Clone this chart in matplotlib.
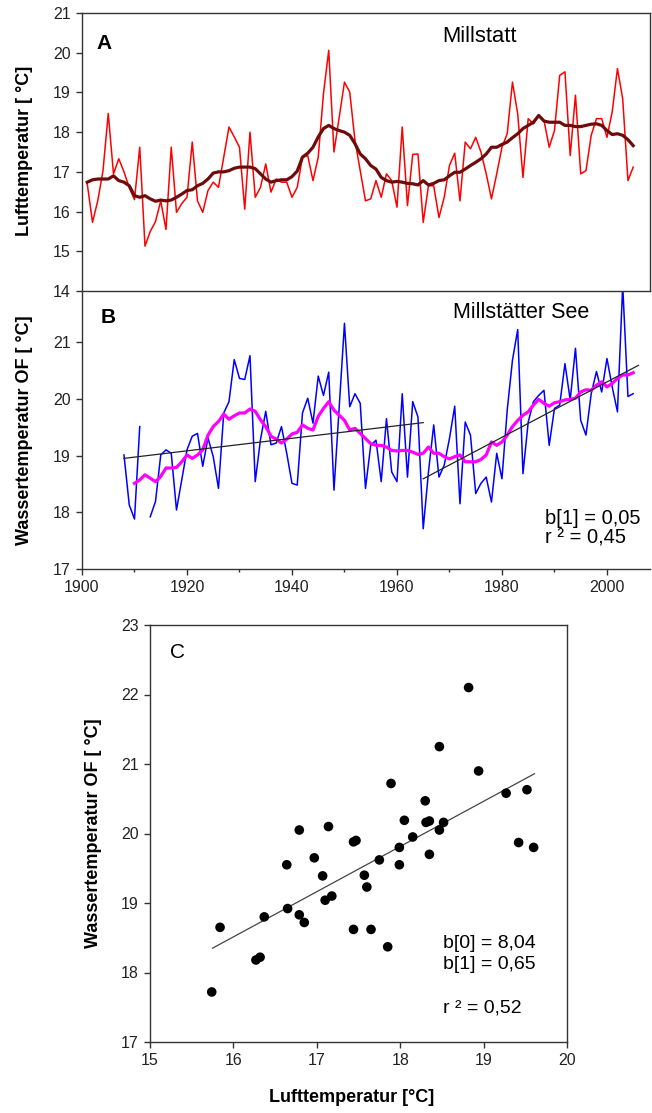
import matplotlib
import numpy as np
from matplotlib import pyplot as plt

matplotlib.use("Agg")

plt.rcParams["font.family"] = ["Liberation Sans", "DejaVu Sans"]

# Panel A: air temperature Millstatt
air_years = np.arange(1901, 2006)
air_temp = [16.70, 15.73, 16.27, 17.03, 18.47, 16.95, 17.33, 17.00, 16.60, 16.30,
            17.62, 15.13, 15.50, 15.75, 16.27, 15.55, 17.62, 15.98, 16.20, 16.36,
            17.75, 16.27, 15.98, 16.53, 16.74, 16.61, 17.37, 18.13, 17.88, 17.62,
            16.06, 18.00, 16.36, 16.61, 17.20, 16.49, 16.82, 16.74, 16.74, 16.36,
            16.61, 17.37, 17.41, 16.78, 17.37, 18.97, 20.06, 17.50, 18.38, 19.26,
            19.01, 17.79, 17.03, 16.27, 16.32, 16.78, 16.36, 16.95, 16.78, 16.11,
            18.13, 16.15, 17.44, 17.45, 15.73, 16.65, 16.65, 15.85, 16.36, 17.16,
            17.47, 16.27, 17.75, 17.58, 17.87, 17.50, 16.95, 16.32, 16.95, 17.62,
            17.96, 19.26, 18.46, 16.86, 18.34, 18.21, 18.42, 18.30, 17.62, 18.04,
            19.43, 19.52, 17.41, 18.93, 16.95, 17.03, 17.92, 18.34, 18.34, 17.87,
            18.51, 19.60, 18.84, 16.78, 17.12]
air_smooth = [16.74, 16.80, 16.82, 16.82, 16.82, 16.90, 16.78, 16.74, 16.65, 16.40,
              16.36, 16.40, 16.32, 16.26, 16.29, 16.27, 16.29, 16.36, 16.44, 16.53,
              16.55, 16.65, 16.71, 16.82, 16.97, 17.00, 17.00, 17.03, 17.09, 17.12,
              17.12, 17.12, 17.08, 16.95, 16.82, 16.74, 16.78, 16.80, 16.80, 16.88,
              17.02, 17.37, 17.47, 17.62, 17.88, 18.09, 18.17, 18.09, 18.04, 18.00,
              17.92, 17.71, 17.45, 17.33, 17.16, 17.07, 16.86, 16.78, 16.74, 16.76,
              16.74, 16.71, 16.70, 16.67, 16.78, 16.67, 16.71, 16.78, 16.80, 16.90,
              16.99, 16.99, 17.07, 17.16, 17.24, 17.33, 17.45, 17.62, 17.62, 17.69,
              17.75, 17.86, 17.96, 18.09, 18.17, 18.25, 18.42, 18.28, 18.25, 18.25,
              18.25, 18.17, 18.17, 18.14, 18.14, 18.17, 18.20, 18.21, 18.17, 18.04,
              17.94, 17.96, 17.92, 17.81, 17.66]

# Panel B: surface water temperature Millstaetter See
water_years = np.arange(1908, 2006)
water_temp = [19.01, 18.13, 17.88, 19.51, np.nan, 17.92, 18.19, 19.01, 19.10, 19.04,
              18.04, 18.57, 19.10, 19.34, 19.39, 18.81, 19.31, 18.98, 18.42, 19.75,
              19.95, 20.69, 20.36, 20.34, 20.76, 18.54, 19.28, 19.78, 19.19, 19.22,
              19.51, 19.04, 18.51, 18.48, 19.75, 20.01, 19.57, 20.40, 20.06, 20.47,
              18.39, 19.86, 21.33, 19.86, 20.09, 19.92, 18.42, 19.18, 19.27, 18.54,
              19.65, 18.71, 18.54, 20.09, 18.62, 19.95, 19.68, 17.71, 18.71, 19.54,
              18.62, 18.83, 19.30, 19.87, 18.15, 19.59, 19.36, 18.33, 18.51, 18.62,
              18.18, 19.04, 18.59, 19.80, 20.68, 21.22, 18.68, 19.59, 19.95, 20.06,
              20.15, 19.18, 19.83, 19.89, 20.62, 19.98, 20.89, 19.62, 19.36, 20.09,
              20.48, 20.12, 20.71, 20.21, 19.77, 22.00, 20.04, 20.09]
smooth_years = np.arange(1910, 2006)
water_smooth = [18.51, 18.57, 18.66, 18.60, 18.54, 18.63, 18.78, 18.78, 18.79, 18.89,
                19.01, 18.95, 19.01, 19.10, 19.36, 19.51, 19.60, 19.73, 19.64, 19.70,
                19.75, 19.75, 19.82, 19.78, 19.63, 19.51, 19.34, 19.29, 19.22, 19.29,
                19.38, 19.41, 19.54, 19.48, 19.45, 19.69, 19.83, 19.95, 19.80, 19.71,
                19.62, 19.45, 19.48, 19.39, 19.30, 19.21, 19.18, 19.18, 19.15, 19.09,
                19.08, 19.09, 19.09, 19.06, 19.02, 19.04, 19.15, 19.04, 19.04, 18.98,
                18.94, 18.98, 19.01, 18.89, 18.89, 18.89, 18.93, 19.01, 19.24, 19.18,
                19.24, 19.36, 19.51, 19.62, 19.71, 19.77, 19.89, 19.99, 19.92, 19.87,
                19.93, 19.95, 19.98, 19.99, 20.01, 20.12, 20.16, 20.15, 20.24, 20.30,
                20.21, 20.27, 20.36, 20.42, 20.42, 20.46]
trend1_years = [1908, 1965]
trend1_vals = [18.95, 19.58]
trend2_years = [1965, 2006]
trend2_vals = [18.59, 20.59]

# Panel C: water vs air temperature
scatter_air = [15.74, 15.84, 16.27, 16.32, 16.37, 16.64, 16.65, 16.79, 16.85, 16.79,
               16.97, 17.07, 17.10, 17.18, 17.14, 17.44, 17.47, 17.44, 17.57, 17.60,
               17.65, 17.75, 17.85, 17.89, 17.99, 17.99, 18.05, 18.15, 18.30, 18.31,
               18.35, 18.35, 18.47, 18.47, 18.52, 18.82, 18.94, 19.27, 19.42, 19.52,
               19.60]
scatter_water = [17.72, 18.65, 18.18, 18.22, 18.80, 19.55, 18.92, 18.83, 18.72, 20.05,
                 19.65, 19.39, 19.04, 19.10, 20.10, 19.88, 19.90, 18.62, 19.40, 19.23,
                 18.62, 19.62, 18.37, 20.72, 19.80, 19.55, 20.19, 19.95, 20.47, 20.16,
                 20.18, 19.70, 21.25, 20.05, 20.16, 22.10, 20.90, 20.58, 19.87, 20.63,
                 19.80]
fit_air = [15.75, 19.61]
fit_water = [18.35, 20.86]

SPINE = "#333333"
W, H = 652, 1113

fig = plt.figure(figsize=(W / 100, H / 100), dpi=100)


def px_axes(left, top, right, bottom):
    return fig.add_axes([left / W, 1 - bottom / H, (right - left) / W, (bottom - top) / H])


def style(ax):
    for s in ax.spines.values():
        s.set_color(SPINE)
        s.set_linewidth(1.0)
    ax.tick_params(which="major", direction="out", length=4.5, width=1.0,
                   color=SPINE, labelsize=11.5, labelcolor="#222222")
    ax.tick_params(which="minor", direction="out", length=2.5, width=1.0, color=SPINE)


# ---- Panel A
ax_a = px_axes(82, 13, 650, 291)
style(ax_a)
ax_a.plot(air_years, air_temp, color="#ff0000", lw=1.1)
ax_a.plot(air_years, air_smooth, color="#6e0c0c", lw=2.3)
ax_a.set_xlim(1900, 2008.2)
ax_a.set_ylim(14, 21)
ax_a.set_yticks(range(14, 22))
ax_a.tick_params(axis="x", bottom=False, labelbottom=False)
ax_a.spines["bottom"].set_visible(False)
ax_a.text(0.026, 0.892, "A", transform=ax_a.transAxes, fontsize=15,
          fontweight="bold", ha="left", va="center")
ax_a.text(0.699, 0.914, "Millstatt", transform=ax_a.transAxes, fontsize=15.8,
          ha="center", va="center")

# ---- Panel B
ax_b = px_axes(82, 291, 650, 569)
style(ax_b)
ax_b.plot(water_years, water_temp, color="#0000ff", lw=1.1)
ax_b.plot(smooth_years, water_smooth, color="#ff00ff", lw=2.3)
ax_b.plot(trend1_years, trend1_vals, color="#222222", lw=0.9)
ax_b.plot(trend2_years, trend2_vals, color="#222222", lw=0.9)
ax_b.set_xlim(1900, 2008.2)
ax_b.set_ylim(17, 21.9)
ax_b.set_yticks(range(17, 22))
ax_b.set_xticks(range(1900, 2001, 20))
ax_b.set_xticks(range(1910, 2001, 20), minor=True)
ax_b.spines["right"].set_visible(False)
ax_b.text(0.033, 0.906, "B", transform=ax_b.transAxes, fontsize=15,
          fontweight="bold", ha="left", va="center")
ax_b.text(0.773, 0.924, "Millstätter See", transform=ax_b.transAxes, fontsize=15.5,
          ha="center", va="center")
ax_b.text(0.815, 0.183, "b[1] = 0,05", transform=ax_b.transAxes, fontsize=14.5,
          ha="left", va="center")
ax_b.text(0.815, 0.112, "r ² = 0,45", transform=ax_b.transAxes, fontsize=14.5,
          ha="left", va="center")

fig.text(25 / W, 1 - 151 / H, "Lufttemperatur [ °C]", rotation=90, fontsize=13,
         fontweight="bold", ha="center", va="center")
fig.text(25 / W, 1 - 430 / H, "Wassertemperatur OF [ °C]", rotation=90, fontsize=13,
         fontweight="bold", ha="center", va="center")

# ---- Panel C
ax_c = px_axes(150, 625, 567, 1042)
style(ax_c)
ax_c.scatter(scatter_air, scatter_water, s=48, color="black", edgecolors="none", zorder=3)
ax_c.plot(fit_air, fit_water, color="#444444", lw=0.9)
ax_c.set_xlim(15, 20)
ax_c.set_ylim(17, 23)
ax_c.set_xticks(range(15, 21))
ax_c.set_yticks(range(17, 24))
ax_c.text(0.048, 0.935, "C", transform=ax_c.transAxes, fontsize=15,
          ha="left", va="center")
ax_c.text(0.703, 0.237, "b[0] = 8,04", transform=ax_c.transAxes, fontsize=14,
          ha="left", va="center")
ax_c.text(0.703, 0.185, "b[1] = 0,65", transform=ax_c.transAxes, fontsize=14,
          ha="left", va="center")
ax_c.text(0.703, 0.082, "r ² = 0,52", transform=ax_c.transAxes, fontsize=14,
          ha="left", va="center")

fig.text(93 / W, 1 - 833 / H, "Wassertemperatur OF [ °C]", rotation=90, fontsize=13,
         fontweight="bold", ha="center", va="center")
fig.text(352 / W, 1 - 1098 / H, "Lufttemperatur [°C]", fontsize=13,
         fontweight="bold", ha="center", va="center")

fig.savefig("out.png", dpi=100)
